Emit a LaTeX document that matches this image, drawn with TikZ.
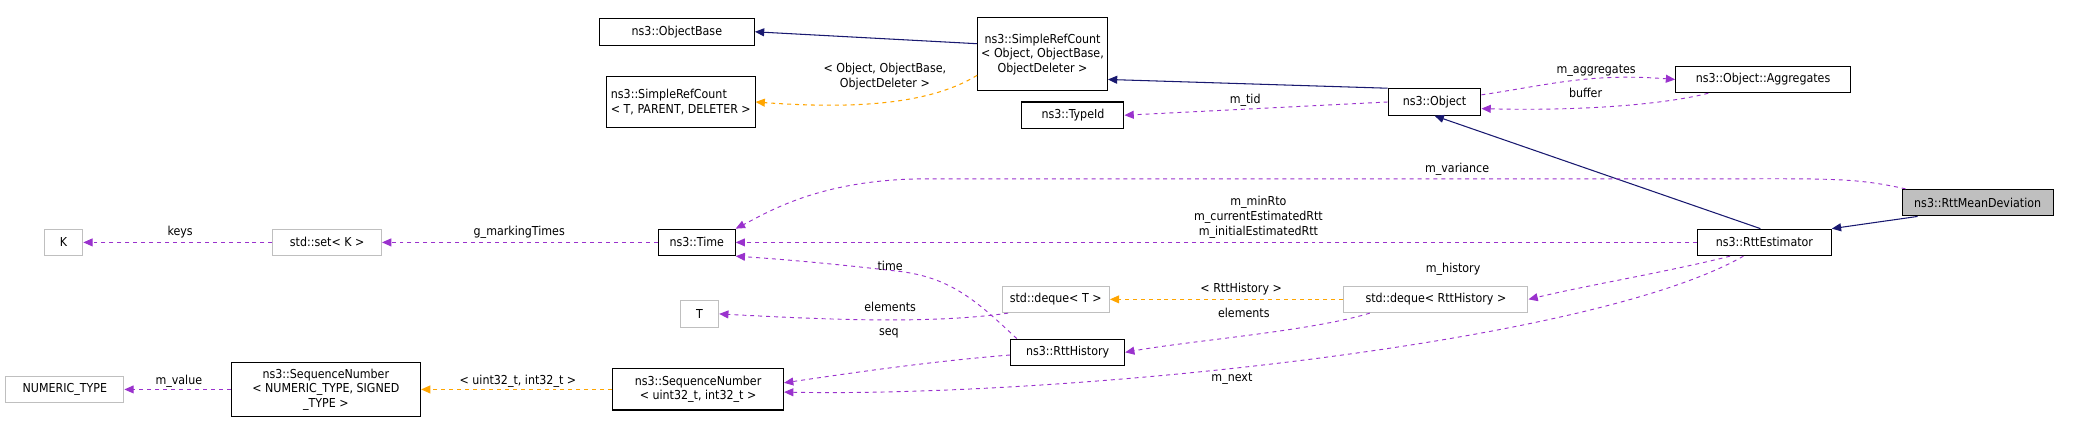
\documentclass[tikz,border=0pt]{standalone}
\usepackage{fontspec}
\setmainfont{DejaVu Sans Condensed}
\usetikzlibrary{arrows.meta}
\definecolor{navy}{HTML}{191970}
\definecolor{purp}{HTML}{9A32CD}
\definecolor{orng}{HTML}{FFA500}
\definecolor{lgray}{HTML}{BFBFBF}
\begin{document}
\begin{tikzpicture}[x=1pt,y=-1pt,
  box/.style={draw=black,line width=0.8pt,fill=white,font=\fontsize{9.3}{11}\selectfont,align=center,inner sep=2pt,minimum height=20pt},
  gbox/.style={box,draw=lgray},
  lbl/.style={font=\fontsize{9.3}{11}\selectfont,align=center,inner sep=0pt},
  tip/.style={-{Triangle[length=7pt,width=6pt]}},
  inh/.style={tip,draw=navy,line width=0.8pt},
  mem/.style={tip,draw=purp,dashed,line width=0.7pt},
  tpl/.style={tip,draw=orng,dashed,line width=0.8pt}]
\useasboundingbox (0,0) rectangle (1568,323);
\node[box,minimum width=117pt] (ob) at (511,24) {ns3::ObjectBase};
\node[box,minimum width=112pt,minimum height=39pt,align=left] (srct) at (514,77) {ns3::SimpleRefCount\\< T, PARENT, DELETER >};
\node[box,minimum width=98pt,minimum height=55pt] (srco) at (787,41) {ns3::SimpleRefCount\\< Object, ObjectBase,\\ ObjectDeleter >};
\node[box,minimum width=77pt] (tid) at (810,87) {ns3::TypeId};
\node[box,minimum width=70pt] (obj) at (1083,77) {ns3::Object};
\node[box,minimum width=132pt] (agg) at (1331,60) {ns3::Object::Aggregates};
\node[box,fill=lgray,minimum width=114pt] (rmd) at (1493,153) {ns3::RttMeanDeviation};
\node[box,minimum width=101pt] (rte) at (1332,183) {ns3::RttEstimator};
\node[box,minimum width=58pt] (time) at (526,183) {ns3::Time};
\node[gbox,minimum width=82pt] (set) at (247,183) {std::set< K >};
\node[gbox,minimum width=29pt] (k) at (48,183) {K};
\node[gbox,minimum width=81pt] (dqt) at (797,226) {std::deque< T >};
\node[gbox,minimum width=139pt] (dqr) at (1084,226) {std::deque< RttHistory >};
\node[gbox,minimum width=29pt] (t) at (528,237) {T};
\node[box,minimum width=86pt] (rh) at (806,266) {ns3::RttHistory};
\node[box,minimum width=129pt,minimum height=31pt] (sq) at (527,294) {ns3::SequenceNumber\\< uint32\_t, int32\_t >};
\node[box,minimum width=143pt,minimum height=41pt] (sqg) at (246,294) {ns3::SequenceNumber\\< NUMERIC\_TYPE, SIGNED\\\_TYPE >};
\node[gbox,minimum width=89pt] (nt) at (49,294) {NUMERIC\_TYPE};
% edges
\draw[inh] (srco.west |- ob) ++(0,9) coordinate (a1) -- (ob.east);
\draw[tpl] (srco.south west) ++(0,-12) .. controls (700,80) and (640,82) .. (srct.east);
\draw[inh] (obj.north west) -- (srco.east |- 0,60);
\draw[mem] (obj.west) -- (tid.east);
\draw[mem] (obj.north east) ++(0,5) .. controls (1170,64) and (1200,55) .. (agg.west);
\draw[mem] (agg.south west) ++(25,0) .. controls (1260,78) and (1200,84) .. (obj.east |- 0,82);
\draw[inh] (rte.north) ++(-3,0) -- (obj.south);
\draw[inh] (rmd.south west) ++(12,0) -- (rte.north east);
\draw[mem] (rmd.north west) ++(3,0) .. controls (1400,134) and (1380,135) .. (1300,135) -- (700,135) .. controls (620,135) and (580,160) .. (time.north east);
\draw[mem] (rte.west) -- (time.east);
\draw[mem] (time.west) -- (set.east);
\draw[mem] (set.west) -- (k.east);
\draw[mem] (rte.south west) ++(25,0) .. controls (1260,205) and (1200,215) .. (dqr.east);
\draw[tpl] (dqr.west) -- (dqt.east);
\draw[mem] (dqr.south west) ++(20,0) .. controls (990,250) and (900,257) .. (rh.east);
\draw[mem] (dqt.south west) ++(5,0) .. controls (700,245) and (620,241) .. (t.east);
\draw[mem] (rh.north west) ++(5,0) .. controls (740,230) and (720,210) .. (680,205) .. controls (620,198) and (580,195) .. (time.south east);
\draw[mem] (rh.west) ++(0,2) .. controls (700,273) and (640,282) .. (sq.east |- 0,289);
\draw[mem] (rte.south west) ++(35,0) .. controls (1200,260) and (800,300) .. (sq.east |- 0,296);
\draw[tpl] (sq.west) -- (sqg.east);
\draw[mem] (sqg.west) -- (nt.east);
% labels
\node[lbl] at (668,58) {< Object, ObjectBase,\\ObjectDeleter >};
\node[lbl] at (940,76) {m\_tid};
\node[lbl] at (1205,53) {m\_aggregates};
\node[lbl] at (1197,70) {buffer};
\node[lbl] at (1100,128) {m\_variance};
\node[lbl] at (950,164) {m\_minRto\\m\_currentEstimatedRtt\\m\_initialEstimatedRtt};
\node[lbl] at (136,175) {keys};
\node[lbl] at (392,175) {g\_markingTimes};
\node[lbl] at (672,201) {time};
\node[lbl] at (937,218) {< RttHistory >};
\node[lbl] at (939,236) {elements};
\node[lbl] at (672,232) {elements};
\node[lbl] at (671,252) {seq};
\node[lbl] at (1097,203) {m\_history};
\node[lbl] at (930,286) {m\_next};
\node[lbl] at (391,288) {< uint32\_t, int32\_t >};
\node[lbl] at (135,288) {m\_value};
\end{tikzpicture}
\end{document}
